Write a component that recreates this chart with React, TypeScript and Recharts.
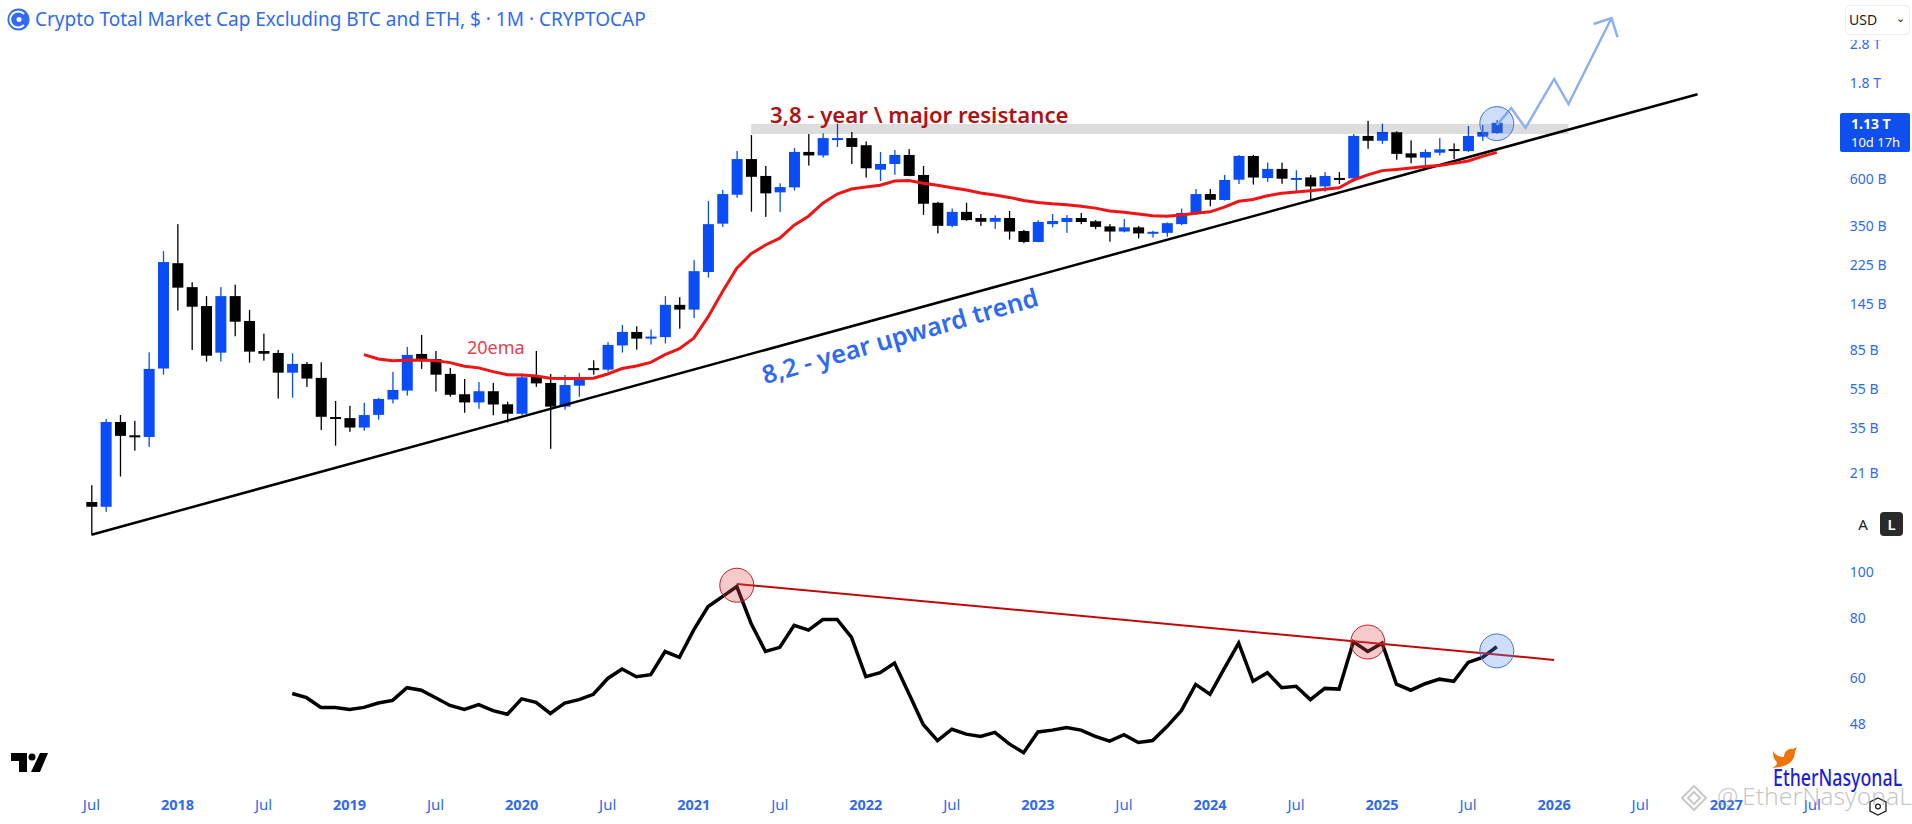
import {
  Bar,
  ComposedChart,
  Line,
  ReferenceDot,
  ReferenceLine,
  XAxis,
  YAxis,
} from "recharts";

const FONT = '"Noto Sans", sans-serif';
const BLUE = "#0a4cf5";
const AXIS_BLUE = "#2f6bf2";

// monthly candles in billions USD, first one is Jul 2017
const open = [15.1, 14.3, 37.6, 32.3, 31.7, 69.2, 230, 175, 141, 82.9, 158, 119, 84.5, 82.6, 66, 72.9, 62.2, 39.8, 39.3, 35.3, 40.8, 48.6, 53.8, 81.7, 77, 65.1, 51.6, 47, 53.4, 46, 41.3, 62.9, 58.7, 44.8, 56.9, 69.5, 68.3, 90, 105, 97.3, 99, 143, 135.5, 208, 361, 502, 754, 622, 516, 546, 818, 786, 950, 958, 883, 668, 713, 790, 629, 458, 352, 413, 385, 369, 385, 332, 293, 359, 368, 385, 371, 350, 330, 346, 322, 325, 359, 403, 506, 473, 596, 781, 607, 674, 603, 612, 552, 608, 605, 982, 929, 1024, 805, 767, 811, 845, 826, 974, 1015];
const high = [18.3, 38.9, 40.7, 38.1, 83.3, 264, 359, 185, 158, 175, 180, 135, 103, 85.5, 82.3, 74.6, 74.3, 47.8, 45.2, 46.8, 49.5, 66.6, 88.5, 101.5, 84.5, 69.7, 61.4, 59.3, 58.7, 47.3, 65.4, 84.5, 65, 64.3, 65.8, 76, 93.4, 113.8, 112, 108, 158, 156, 238, 468, 530, 827, 991, 697, 572, 855, 1003, 1011, 1130, 1027, 922, 818, 836, 845, 697, 463, 429, 458, 403, 397, 417, 336, 375, 403, 398, 408, 376, 359, 381, 351, 333, 366, 429, 536, 536, 629, 790, 790, 724, 724, 664, 629, 650, 650, 1003, 1165, 1130, 1035, 933, 843, 958, 902, 1100, 1112, 1177];
const low = [10.4, 13.5, 20.2, 27.1, 28.3, 64.5, 134, 85.5, 74.9, 74.9, 100, 74, 75.7, 49.1, 49.6, 56.1, 34.3, 28.7, 33.6, 34, 38.6, 46.5, 50.8, 68.9, 53.2, 50.2, 41.8, 43.7, 40.6, 37.4, 40.7, 56.1, 27.7, 43.3, 50.2, 64.5, 66.8, 83, 85.8, 91, 92, 109, 123, 195, 348, 485, 414, 390, 412, 526, 700, 767, 865, 713, 611, 587, 630, 620, 399, 323, 347, 373, 352, 340, 301, 289, 292, 346, 325, 359, 339, 294, 327, 305, 308, 311, 355, 399, 440, 469, 567, 564, 582, 569, 520, 473, 520, 567, 582, 848, 897, 748, 718, 674, 786, 755, 817, 929, 1007];
const close = [14.3, 37.6, 32.1, 32, 68.9, 233, 174, 140, 80.1, 158, 118, 83.9, 81.9, 66, 72.9, 61.7, 39.9, 39.3, 35.3, 40.7, 48.9, 54.2, 80.8, 76.3, 64.5, 51.3, 47, 53.4, 45.9, 41.3, 62.6, 58.4, 44.8, 57.3, 62.2, 68.3, 90.6, 105, 97.3, 99.6, 143, 135.5, 210, 359, 506, 754, 616, 510, 548, 818, 786, 958, 958, 866, 679, 713, 790, 622, 453, 352, 413, 376, 369, 385, 330, 293, 368, 372, 385, 368, 348, 330, 346, 323, 329, 363, 408, 506, 474, 594, 781, 611, 674, 603, 608, 552, 622, 605, 982, 929, 1027, 800, 767, 818, 843, 839, 982, 1027, 1140];

// 20ema starts at candle 19
const EMA_START = 19;
const ema = [81.1, 77.2, 75.7, 76, 76.3, 75.7, 74, 71, 69.7, 66.8, 64.5, 64.3, 63.5, 62, 61.7, 61.7, 61.9, 65, 69.2, 71.2, 74.2, 81.1, 86.8, 97.8, 124.6, 166, 217, 256, 283, 306, 355, 393, 456, 506, 536, 548, 560, 587, 590, 572, 560, 544, 530, 512, 500, 487, 470, 460, 453, 448, 440, 431, 417, 411, 403, 395, 393, 398, 406, 413, 436, 466, 476, 496, 510, 518, 525, 534, 544, 594, 630, 661, 670, 681, 692, 700, 718, 738, 778, 814];

// lower pane starts at candle 14
const RSI_START = 14;
const rsi = [55.6, 54.5, 52, 52, 51.5, 52, 53.1, 53.8, 57.2, 56.5, 54.5, 52.5, 51.5, 52.7, 51.2, 50.3, 54.2, 53.3, 50.5, 53.1, 54, 55.4, 59.8, 62.6, 60.3, 60.9, 68.1, 66.2, 75.6, 84.6, 88.8, 93.2, 78, 68.1, 69.5, 77.3, 75.5, 79.5, 79.5, 72.9, 60.3, 61.5, 64.4, 55.6, 47.9, 44.3, 46.8, 45.7, 45.2, 46.1, 43.6, 41.8, 46.2, 46.6, 47.2, 46.6, 45.2, 44.2, 45.6, 43.9, 44.3, 47.4, 51.2, 58.1, 55.4, 62.8, 70.9, 59, 61.5, 57.2, 57.6, 54, 57, 56.8, 71.4, 68.1, 70.9, 58.2, 56.5, 58.3, 59.6, 59, 64.6, 66.2, 69.7];

// hand drawn projection, by month after the first candle
const forecastMonths = ["2025-09", "2025-10", "2025-11", "2026-01", "2026-02", "2026-05"];
const forecastValues = [1112, 1349, 1075, 1880, 1413, 3767];

// resistance zone
const ZONE_FROM = "2021-05";
const ZONE_TO = "2026-02";
const ZONE_LEVEL = 1062;

const priceTicks = [2800, 1800, 600, 350, 225, 145, 85, 55, 35, 21];
const rsiTicks = [100, 80, 60, 48];

const monthNames = ["Jan", "Feb", "Mar", "Apr", "May", "Jun", "Jul", "Aug", "Sep", "Oct", "Nov", "Dec"];
const months: string[] = [];
for (let n = 0; n < 127; n++) {
  const total = 2017 * 12 + 1 + n;
  const mm = total % 12;
  months.push(`${Math.floor(total / 12)}-${String(mm + 1).padStart(2, "0")}`);
}
const LEAD = 5;
const timeTicks = months.filter((m) => m.endsWith("-01") || m.endsWith("-07"));

const rows = months.map((month, k) => {
  const i = k - LEAD;
  const has = i >= 0 && i < open.length;
  const fi = forecastMonths.indexOf(month);
  return {
    month,
    range: has ? [low[i], high[i]] : null,
    open: has ? open[i] : null,
    high: has ? high[i] : null,
    low: has ? low[i] : null,
    close: has ? close[i] : null,
    ema: ema[i - EMA_START] ?? null,
    rsi: rsi[i - RSI_START] ?? null,
    forecast: fi >= 0 ? forecastValues[fi] : null,
    zone: month >= ZONE_FROM && month <= ZONE_TO ? ZONE_LEVEL : null,
  };
});

const Candle = (props: any) => {
  const { x, y, width, height, payload } = props;
  if (payload.range == null || !Number.isFinite(y)) return null;
  const up = payload.close >= payload.open;
  const color = up ? BLUE : "#000000";
  const span = Math.log(payload.high) - Math.log(payload.low);
  const at = (v: number) => y + (height * (Math.log(payload.high) - Math.log(v))) / span;
  const top = at(Math.max(payload.open, payload.close));
  const bottom = at(Math.min(payload.open, payload.close));
  return (
    <g>
      <rect x={x + width / 2 - 0.65} y={y} width={1.3} height={height} fill={color} />
      <rect x={x} y={top} width={width} height={Math.max(bottom - top, 2)} fill={color} />
    </g>
  );
};

const ForecastDot = (props: any) => {
  const { cx, cy, index } = props;
  if (months[index] !== "2026-05") return <g key={index} />;
  return (
    <path
      key={index}
      d={`M${cx - 18} ${cy + 6} L${cx} ${cy} L${cx + 6} ${cy + 19}`}
      fill="none"
      stroke="#8fb0f4"
      strokeWidth={2.5}
    />
  );
};

const TimeTick = (props: any) => {
  const { x, y, payload } = props;
  const [year, mm] = String(payload.value).split("-");
  const isYear = mm === "01";
  return (
    <text
      x={x}
      y={y}
      dy={12}
      textAnchor="middle"
      fill={AXIS_BLUE}
      fontFamily={FONT}
      fontSize={isYear ? 14.5 : 15}
      fontWeight={isYear ? 700 : 400}
    >
      {isYear ? year : monthNames[Number(mm) - 1]}
    </text>
  );
};

const yTickStyle = { fill: AXIS_BLUE, fontSize: 14, fontFamily: FONT };

function PriceChart() {
  return (
    <ComposedChart width={1912} height={540} data={rows} margin={{ top: 0, right: 0, bottom: 0, left: 12.6 }}>
      <XAxis dataKey="month" hide />
      <YAxis
        orientation="right"
        width={78.2}
        scale="log"
        type="number"
        domain={[9.79, 4626]}
        allowDataOverflow
        ticks={priceTicks}
        interval={0}
        tickLine={false}
        axisLine={false}
        tickMargin={10}
        tick={yTickStyle}
        tickFormatter={(v: number) => (v >= 1000 ? `${v / 1000} T` : `${v} B`)}
      />
      <Bar dataKey="range" barSize={11} shape={Candle} isAnimationActive={false} />
      {/* lines always paint over bars, so the zone is see-through to keep wicks visible */}
      <Line dataKey="zone" stroke="#000000" strokeOpacity={0.135} strokeWidth={10} dot={false} isAnimationActive={false} />
      <ReferenceLine
        segment={[
          { x: "2017-07", y: 10.4 },
          { x: "2026-11", y: 1578 },
        ]}
        stroke="#000000"
        strokeWidth={2.5}
      />
      <Line dataKey="ema" stroke="#f01414" strokeWidth={3} dot={false} isAnimationActive={false} />
      <Line
        dataKey="forecast"
        stroke="#8fb0f4"
        strokeWidth={2.5}
        connectNulls
        dot={ForecastDot}
        isAnimationActive={false}
      />
      <ReferenceDot x="2025-09" y={1130} r={17} fill="#5b8df0" fillOpacity={0.3} stroke="#3f74e8" strokeWidth={1} />
    </ComposedChart>
  );
}

function RsiChart() {
  return (
    <ComposedChart width={1912} height={279} data={rows} margin={{ top: 0, right: 0, bottom: 0, left: 12.6 }}>
      <XAxis
        dataKey="month"
        scale="band"
        height={34}
        ticks={timeTicks}
        interval={0}
        tickLine={false}
        axisLine={false}
        tick={TimeTick}
      />
      <YAxis
        orientation="right"
        width={78.2}
        scale="log"
        type="number"
        domain={[34.9, 113.9]}
        allowDataOverflow
        ticks={rsiTicks}
        interval={0}
        tickLine={false}
        axisLine={false}
        tickMargin={10}
        tick={yTickStyle}
      />
      <Line dataKey="rsi" stroke="#000000" strokeWidth={3.5} dot={false} isAnimationActive={false} />
      <ReferenceLine
        segment={[
          { x: "2021-04", y: 94.4 },
          { x: "2026-01", y: 65.4 },
        ]}
        stroke="#c00a0a"
        strokeWidth={2}
      />
      <ReferenceDot x="2021-04" y={93.8} r={17} fill="#e05050" fillOpacity={0.3} stroke="#c81e1e" strokeWidth={1} />
      <ReferenceDot x="2024-12" y={71.3} r={17} fill="#e05050" fillOpacity={0.3} stroke="#c81e1e" strokeWidth={1} />
      <ReferenceDot x="2025-09" y={68.3} r={17} fill="#5b8df0" fillOpacity={0.3} stroke="#3f74e8" strokeWidth={1} />
    </ComposedChart>
  );
}

const abs = (left: number, top: number): React.CSSProperties => ({
  position: "absolute",
  left,
  top,
  fontFamily: FONT,
  whiteSpace: "nowrap",
});

function Decorations() {
  return (
    <>
      <svg width={1912} height={824} style={{ position: "absolute", left: 0, top: 0, pointerEvents: "none" }}>
        <circle cx={18.5} cy={19.5} r={11} fill="#2f6bf2" />
        <path d="M24 14 A8 8 0 1 0 24 25" fill="none" stroke="#ffffff" strokeWidth={2} />
        <circle cx={19} cy={19.5} r={2.5} fill="#ffffff" />
        <path d="M11 753 h16 v19 h-8 v-11 h-8 z M40 753 h8 l-8 19 h-9 z" fill="#000000" />
        <circle cx={32} cy={757} r={3.5} fill="#000000" />
        <path
          d="M1773 751 C1776 756 1780 757 1784 757 C1784 752 1788 748 1793 749 L1797 747 L1795 752 C1794 762 1788 767 1772 768 C1778 765 1778 763 1775 760 C1773 757 1773 754 1773 751 Z"
          fill="#f07408"
        />
        <g fill="none" stroke="#c8c8c8" strokeWidth={2}>
          <path d="M1694 786 l12 12 l-12 12 l-12 -12 z" />
          <path d="M1694 792 l6 6 l-6 6 l-6 -6 z" />
        </g>
        <polygon
          points="1878,798 1886,802 1886,811 1878,815 1870,811 1870,802"
          fill="none"
          stroke="#222222"
          strokeWidth={1.3}
        />
        <circle cx={1878} cy={806.5} r={2.4} fill="none" stroke="#222222" strokeWidth={1.3} />
      </svg>
      <div style={{ ...abs(35, 6), color: "#2f6bf2", fontSize: 19 }}>
        Crypto Total Market Cap Excluding BTC and ETH, $ · 1M · CRYPTOCAP
      </div>
      <div style={{ ...abs(770, 99), color: "#b01212", fontSize: 22.2, fontWeight: 600 }}>
        3,8 - year \ major resistance
      </div>
      <div style={{ ...abs(467, 335), color: "#e8404a", fontSize: 18 }}>20ema</div>
      <div
        style={{
          ...abs(767, 357),
          color: "#2f6bf2",
          fontSize: 25.3,
          fontWeight: 600,
          transform: "rotate(-16deg)",
          transformOrigin: "0 100%",
        }}
      >
        8,2 - year upward trend
      </div>
      <div style={{ position: "absolute", left: 1845, top: 5, width: 65, height: 35, background: "#ffffff" }} />
      <div
        style={{
          ...abs(1845, 5),
          width: 65,
          height: 30,
          boxSizing: "border-box",
          background: "#ffffff",
          border: "1px solid #eeeeee",
          borderRadius: 4,
          fontSize: 14,
          lineHeight: "28px",
          paddingLeft: 3,
          color: "#222222",
        }}
      >
        USD
        <span style={{ position: "absolute", right: 4, top: -2, fontSize: 11 }}>⌄</span>
      </div>
      <div
        style={{
          ...abs(1840, 113),
          width: 70,
          height: 39,
          background: "#0f4ff0",
          color: "#ffffff",
          borderRadius: 2,
          fontSize: 13,
          lineHeight: "18px",
          paddingTop: 2,
          boxSizing: "border-box",
          textAlign: "left",
          paddingLeft: 11,
        }}
      >
        <div style={{ fontWeight: 700, fontSize: 14 }}>1.13 T</div>
        <div>10d 17h</div>
      </div>
      <div style={{ ...abs(1852, 512), width: 22, height: 24, fontSize: 15, lineHeight: "24px", textAlign: "center", color: "#222222" }}>
        A
      </div>
      <div
        style={{
          ...abs(1880, 512),
          width: 23,
          height: 24,
          background: "#2a2a2a",
          borderRadius: 4,
          color: "#ffffff",
          fontSize: 15,
          fontWeight: 600,
          lineHeight: "24px",
          textAlign: "center",
        }}
      >
        L
      </div>
      <div
        style={{
          ...abs(1773, 760),
          color: "#1a1fe0",
          fontSize: 24,
          fontWeight: 500,
          transform: "scaleX(0.74)",
          transformOrigin: "0 50%",
        }}
      >
        EtherNasyonaL
      </div>
      <div style={{ ...abs(1717, 779), color: "rgba(160,160,160,0.6)", fontSize: 24, fontWeight: 300 }}>@</div>
      <div
        style={{
          ...abs(1742, 779),
          color: "rgba(160,160,160,0.6)",
          fontSize: 24,
          fontWeight: 300,
          transform: "scaleX(1.03)",
          transformOrigin: "0 50%",
        }}
      >
        EtherNasyonaL
      </div>
    </>
  );
}

export default function App() {
  return (
    <div style={{ position: "absolute", left: 0, top: 0, width: 1912, height: 824, background: "#ffffff", overflow: "hidden" }}>
      <div style={{ position: "absolute", left: 0, top: 0 }}>
        <PriceChart />
      </div>
      <div style={{ position: "absolute", left: 0, top: 545 }}>
        <RsiChart />
      </div>
      <Decorations />
    </div>
  );
}
